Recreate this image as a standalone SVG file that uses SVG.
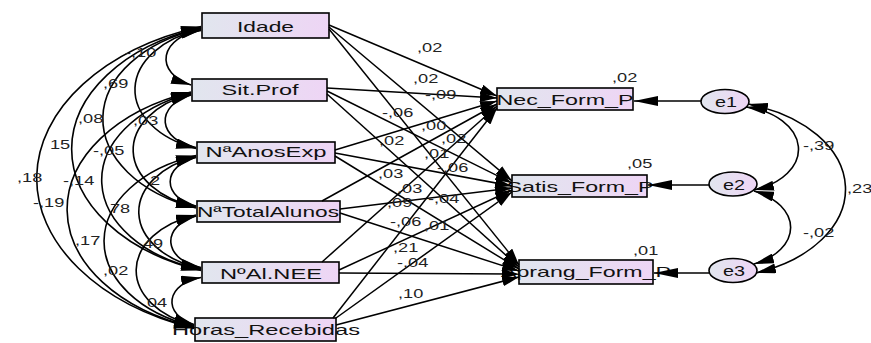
<svg xmlns="http://www.w3.org/2000/svg" width="871" height="343" viewBox="0 0 871 343">
<defs>
<linearGradient id="g" x1="0" y1="0" x2="1" y2="0"><stop offset="0" stop-color="#e1e6ee"/><stop offset="1" stop-color="#eed5f5"/></linearGradient>
<marker id="a" viewBox="0 0 20 10" refX="20" refY="5" markerWidth="20" markerHeight="10" markerUnits="userSpaceOnUse" orient="auto-start-reverse"><path d="M0,0 L20,5 L0,10 z" fill="#000"/></marker>
<marker id="p" viewBox="0 0 17 10" refX="17" refY="5" markerWidth="17" markerHeight="10" markerUnits="userSpaceOnUse" orient="auto"><path d="M0,0 L17,5 L0,10 z" fill="#000"/></marker>
<marker id="h" viewBox="0 0 24 10" refX="24" refY="5" markerWidth="24" markerHeight="10" markerUnits="userSpaceOnUse" orient="auto"><path d="M0,0 L24,5 L0,10 z" fill="#000"/></marker>
</defs>
<style>
.box{fill:url(#g);stroke:#000;stroke-width:1.6}
.t{font-family:"Liberation Sans",Arial,sans-serif;font-size:15px;fill:#111;text-anchor:middle}
.l{font-family:"Liberation Sans",Arial,sans-serif;font-size:13px;fill:#222}
.cov{fill:none;stroke:#000;stroke-width:1.6;marker-start:url(#a);marker-end:url(#a)}
.path{fill:none;stroke:#000;stroke-width:1.5;marker-end:url(#p)}
.err{fill:none;stroke:#000;stroke-width:1.5;marker-end:url(#h)}
</style>
<rect width="871" height="343" fill="#fff"/>

<g id="idade"><rect class="box" x="202" y="13" width="127" height="25"/><text class="t" x="265.5" y="32" textLength="57" lengthAdjust="spacingAndGlyphs">Idade</text></g>
<g id="sitprof"><rect class="box" x="192" y="79" width="135" height="22"/><text class="t" x="260" y="95" textLength="77" lengthAdjust="spacingAndGlyphs">Sit.Prof</text></g>
<g id="anosexp"><rect class="box" x="197" y="142" width="138" height="21"/><text class="t" x="266" y="157" textLength="121" lengthAdjust="spacingAndGlyphs">NªAnosExp</text></g>
<g id="totalalunos"><rect class="box" x="197" y="201" width="143" height="21"/><text class="t" x="268" y="217" textLength="142" lengthAdjust="spacingAndGlyphs">NªTotalAlunos</text></g>
<g id="alnee"><rect class="box" x="202" y="262" width="137" height="21"/><text class="t" x="271" y="278.5" textLength="102" lengthAdjust="spacingAndGlyphs">NºAl.NEE</text></g>
<g id="horas"><rect class="box" x="195" y="318" width="141" height="23"/><text class="t" x="266" y="335" textLength="188" lengthAdjust="spacingAndGlyphs">Horas_Recebidas</text></g>
<g id="nec"><rect class="box" x="497" y="88" width="136" height="22"/><text class="t" x="565" y="105" textLength="137" lengthAdjust="spacingAndGlyphs">Nec_Form_P</text></g>
<g id="satis"><rect class="box" x="512" y="175" width="135" height="22"/><text class="t" x="580" y="191.5" textLength="147" lengthAdjust="spacingAndGlyphs">Satis_Form_P</text></g>
<g id="aprang"><rect class="box" x="519" y="260" width="134" height="24"/><text class="t" x="586" y="277" textLength="170" lengthAdjust="spacingAndGlyphs">Aprang_Form_P</text></g>
<g id="e1"><ellipse class="box" cx="725" cy="101.5" rx="24" ry="12"/><text class="t" x="726" y="107" font-size="16" textLength="22" lengthAdjust="spacingAndGlyphs">e1</text></g>
<g id="e2"><ellipse class="box" cx="733" cy="184" rx="24" ry="12"/><text class="t" x="734" y="189.5" font-size="16" textLength="22" lengthAdjust="spacingAndGlyphs">e2</text></g>
<g id="e3"><ellipse class="box" cx="733" cy="270.5" rx="24" ry="12"/><text class="t" x="734" y="276" font-size="16" textLength="22" lengthAdjust="spacingAndGlyphs">e3</text></g>

<g id="connectors">
<path class="cov" d="M201,30.5 A44.1,29 0 0 0 191,85"/>
<path class="cov" d="M201,29.5 A96.3,63.3 0 0 0 196,148.5"/>
<path class="cov" d="M201,28.5 A145.2,95.5 0 0 0 196,208"/>
<path class="cov" d="M201,27.5 A196.6,129.3 0 0 0 201,270.5"/>
<path class="cov" d="M201,26.5 A244.3,160.7 0 0 0 194,328.5"/>
<path class="cov" d="M191,95 A42.5,27.9 0 0 0 196,147.5"/>
<path class="cov" d="M191,94 A91.4,60.1 0 0 0 196,207"/>
<path class="cov" d="M191,93 A142.8,93.9 0 0 0 201,269.5"/>
<path class="cov" d="M191,92 A190.5,125.3 0 0 0 194,327.5"/>
<path class="cov" d="M196,157.5 A39.2,25.8 0 0 0 196,206"/>
<path class="cov" d="M196,156.5 A90.6,59.6 0 0 0 201,268.5"/>
<path class="cov" d="M196,155.5 A138.3,91 0 0 0 194,326.5"/>
<path class="cov" d="M196,216 A41.7,27.4 0 0 0 201,267.5"/>
<path class="cov" d="M196,215 A89.4,58.8 0 0 0 194,325.5"/>
<path class="cov" d="M201,277.5 A38,25 0 0 0 194,324.5"/>

<path class="path" d="M329,25 L497,96"/>
<path class="path" d="M329,27 L512,181"/>
<path class="path" d="M329,29 L519,265"/>
<path class="path" d="M327,88 L497,98"/>
<path class="path" d="M327,91 L512,183"/>
<path class="path" d="M327,94 L519,267"/>
<path class="path" d="M335,150 L497,101"/>
<path class="path" d="M335,153 L512,186"/>
<path class="path" d="M335,156 L519,269"/>
<path class="path" d="M322,201 L497,104"/>
<path class="path" d="M340,209 L512,188"/>
<path class="path" d="M340,213 L519,271"/>
<path class="path" d="M322,262 L497,106"/>
<path class="path" d="M339,270 L512,190"/>
<path class="path" d="M339,273 L519,274"/>
<path class="path" d="M333,318 L497,108"/>
<path class="path" d="M336,318 L512,192"/>
<path class="path" d="M336,325 L519,277"/>

<path class="err" d="M701,101 L634,101"/>
<path class="err" d="M709,185 L648,185"/>
<path class="err" d="M709,273 L654,273"/>

<path class="cov" d="M746,107 A65,43 0 0 1 754,190"/>
<path class="cov" d="M754,191 A62,40 0 0 1 754,264"/>
<path class="cov" d="M748,104 A136,89 0 0 1 756,273"/>
</g>

<g id="labels">
<text class="l" transform="translate(417,52) scale(1.4,1)">,02</text>
<text class="l" transform="translate(413,83) scale(1.4,1)">,02</text>
<text class="l" transform="translate(425,99) scale(1.4,1)">-,09</text>
<text class="l" transform="translate(382,117) scale(1.4,1)">-,06</text>
<text class="l" transform="translate(421,130) scale(1.4,1)">,00</text>
<text class="l" transform="translate(379,145) scale(1.4,1)">,02</text>
<text class="l" transform="translate(441,143) scale(1.4,1)">,02</text>
<text class="l" transform="translate(424,158) scale(1.4,1)">,01</text>
<text class="l" transform="translate(437,172) scale(1.4,1)">-,06</text>
<text class="l" transform="translate(378,178) scale(1.4,1)">,03</text>
<text class="l" transform="translate(397,193) scale(1.4,1)">,03</text>
<text class="l" transform="translate(428,203) scale(1.4,1)">-,04</text>
<text class="l" transform="translate(387,207) scale(1.4,1)">,09</text>
<text class="l" transform="translate(390,226) scale(1.4,1)">-,06</text>
<text class="l" transform="translate(424,230) scale(1.4,1)">,01</text>
<text class="l" transform="translate(393,252) scale(1.4,1)">,21</text>
<text class="l" transform="translate(397,267) scale(1.4,1)">-,04</text>
<text class="l" transform="translate(398,298) scale(1.4,1)">,10</text>

<text class="l" transform="translate(125,57) scale(1.4,1)">-,10</text>
<text class="l" transform="translate(103,88) scale(1.4,1)">,69</text>
<text class="l" transform="translate(78,123) scale(1.4,1)">,08</text>
<text class="l" transform="translate(133,125) scale(1.4,1)">,03</text>
<text class="l" transform="translate(50,149) scale(1.4,1)">15</text>
<text class="l" transform="translate(93,155) scale(1.4,1)">-,05</text>
<text class="l" transform="translate(17,182) scale(1.4,1)">,18</text>
<text class="l" transform="translate(63,185) scale(1.4,1)">-,14</text>
<text class="l" transform="translate(33,207) scale(1.4,1)">-,19</text>
<text class="l" transform="translate(150,185) scale(1.4,1)">2</text>
<text class="l" transform="translate(110,213) scale(1.4,1)">78</text>
<text class="l" transform="translate(143,248) scale(1.4,1)">49</text>
<text class="l" transform="translate(75,245) scale(1.4,1)">,17</text>
<text class="l" transform="translate(103,275) scale(1.4,1)">,02</text>
<text class="l" transform="translate(147,307) scale(1.4,1)">04</text>

<text class="l" transform="translate(612,82) scale(1.4,1)">,02</text>
<text class="l" transform="translate(627,168) scale(1.4,1)">,05</text>
<text class="l" transform="translate(633,255) scale(1.4,1)">,01</text>
<text class="l" transform="translate(803,150) scale(1.4,1)">-,39</text>
<text class="l" transform="translate(847,193) scale(1.4,1)">,23</text>
<text class="l" transform="translate(803,237) scale(1.4,1)">-,02</text>
</g>
</svg>
